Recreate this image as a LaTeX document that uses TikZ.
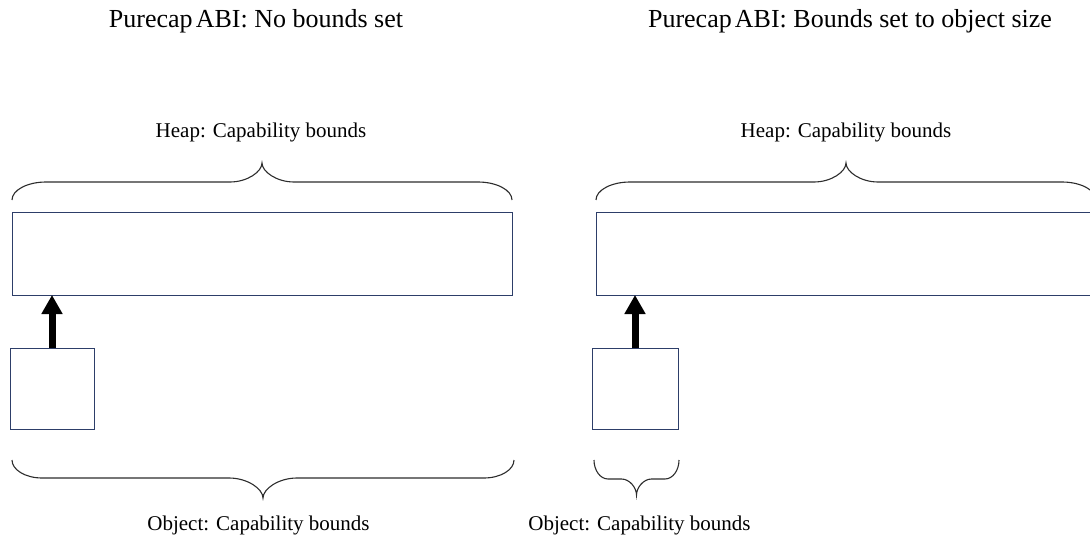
\documentclass[tikz,border=0pt]{standalone}
\usepackage{fontspec}
\setmainfont{Liberation Serif}
\usetikzlibrary{arrows.meta}
\definecolor{boxblue}{RGB}{45,62,105}
\definecolor{bracegray}{RGB}{45,45,45}
% #1 x1, #2 x2, #3 y end, #4 y flat, #5 y tip, #6 end radius, #7 tip radius
\newcommand{\wbrace}[7]{%
  \draw[bracestyle] (#1,#3)
    .. controls (#1,{#3+0.55*(#4-#3)}) and ({#1+0.45*#6},#4) .. ({#1+#6},#4)
    -- ({(#1+#2)/2-#7},#4)
    .. controls ({(#1+#2)/2-0.45*#7},#4) and ({(#1+#2)/2},{#5+0.45*(#4-#5)}) .. ({(#1+#2)/2},#5)
    .. controls ({(#1+#2)/2},{#5+0.45*(#4-#5)}) and ({(#1+#2)/2+0.45*#7},#4) .. ({(#1+#2)/2+#7},#4)
    -- ({#2-#6},#4)
    .. controls ({#2-0.45*#6},#4) and (#2,{#3+0.55*(#4-#3)}) .. (#2,#3);}
\tikzset{
  memBox/.style={draw=boxblue, line width=0.9pt, fill=white, outer sep=0pt, inner sep=0pt},
  bracestyle/.style={draw=bracegray, line width=1.1pt},
  ptr/.style={line width=7pt, -{Triangle[width=20pt,length=19pt]}},
  titleText/.style={font=\fontsize{26}{30}\selectfont, anchor=base, inner sep=0pt},
  labelText/.style={font=\fontsize{21}{24}\selectfont, anchor=base, inner sep=0pt}
}
\begin{document}
\begin{tikzpicture}[x=1pt,y=-1pt]
\useasboundingbox (0,0) rectangle (1090,535);
\clip (0,0) rectangle (1090,535);
% titles
\node[titleText] (titleL) at (256,28) {Purecap\hspace{0.12em}ABI: No bounds set};
\node[titleText] (titleR) at (850,28) {Purecap\hspace{0.12em}ABI: Bounds set to object size};
% heap labels
\node[labelText] (heapLabL) at (261,137) {Heap: Capability bounds};
\node[labelText] (heapLabR) at (846,137) {Heap: Capability bounds};
% heap boxes
\node[memBox, minimum width=500pt, minimum height=83pt] (heapL) at (262,253.5) {};
\node[memBox, minimum width=504pt, minimum height=83pt] (heapR) at (848,253.5) {};
% object boxes
\node[memBox, minimum width=84pt, minimum height=81pt] (objL) at (52,388.5) {};
\node[memBox, minimum width=86pt, minimum height=81pt] (objR) at (635,388.5) {};
% pointers
\draw[ptr] (objL.north) -- (objL.north |- heapL.south);
\draw[ptr] (objR.north) -- (objR.north |- heapR.south);
% braces
\wbrace{12}{512}{200}{182}{163}{34}{32}
\wbrace{596}{1096}{200}{182}{163}{34}{32}
\wbrace{12}{514}{460}{478}{498}{30}{34}
\wbrace{594}{679}{460}{479}{495}{14}{15}
% object labels
\node[labelText] (objLabL) at (258.5,530) {Object: Capability bounds};
\node[labelText] (objLabR) at (639.5,530) {Object: Capability bounds};
\end{tikzpicture}
\end{document}
